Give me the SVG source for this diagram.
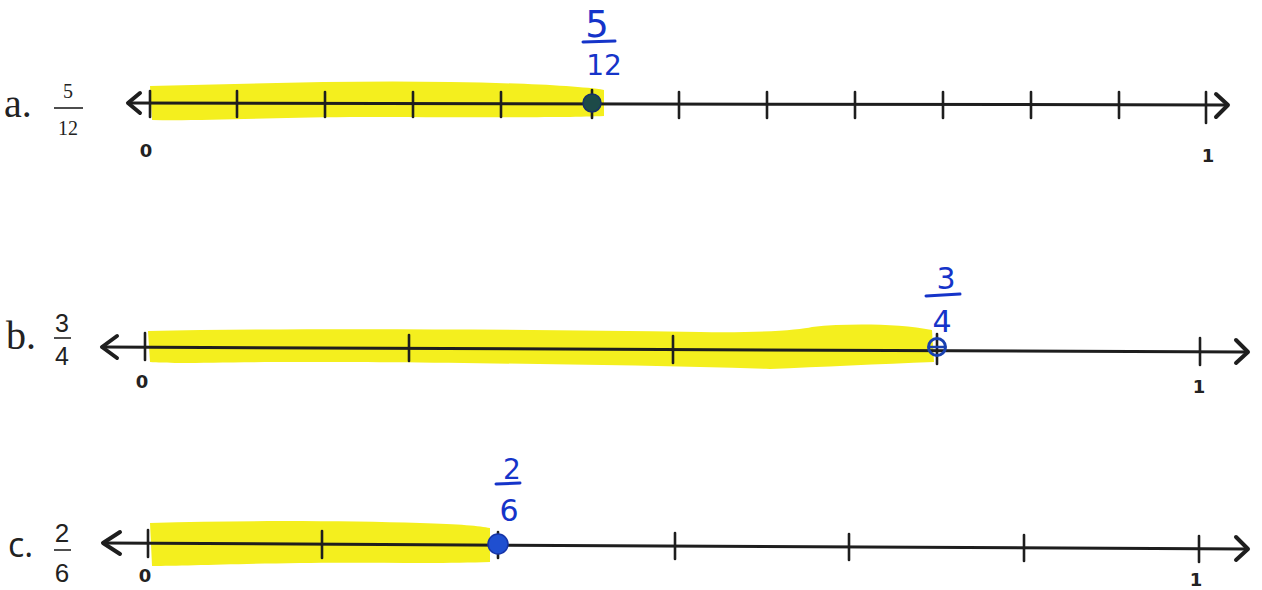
<svg xmlns="http://www.w3.org/2000/svg" width="1262" height="590" viewBox="0 0 1262 590">
<style>
.hl{fill:#f4ef1e;}
.ax{stroke:#1e1e1e;stroke-width:3;fill:none;stroke-linecap:round;}
.tk{stroke:#1e1e1e;stroke-width:2.6;stroke-linecap:round;}
.ah{stroke:#1e1e1e;stroke-width:4;fill:none;stroke-linecap:round;stroke-linejoin:round;}
.num{font-family:"DejaVu Sans","Liberation Sans",sans-serif;font-weight:bold;font-size:18px;fill:#222;text-anchor:middle;}
.lbl{font-family:"Liberation Serif",serif;font-size:40px;fill:#222;}
.lblc{font-family:"Open Sans","Liberation Sans",sans-serif;font-size:34px;fill:#222;}
.fr{font-family:"Liberation Serif",serif;font-size:20px;fill:#222;text-anchor:middle;}
.fr2{font-family:"Liberation Sans",sans-serif;font-size:25px;fill:#222;text-anchor:middle;}
.hw{font-family:"DejaVu Sans","Liberation Sans",sans-serif;font-size:30px;fill:#1534c9;text-anchor:middle;}
.hwb{stroke:#1534c9;stroke-width:3;stroke-linecap:round;}
.bar{stroke:#222;stroke-width:1.6;}
</style>

<g id="line-a">
  <text class="lbl" x="4" y="117">a.</text>
  <text class="fr" x="68" y="98">5</text>
  <line class="bar" x1="54" y1="108" x2="83" y2="108"/>
  <text class="fr" x="68" y="135">12</text>
  <path class="hl" d="M150,86 C250,84 350,80 450,82 C520,83 580,86 604,90 L604,116 C560,118 450,117 350,117 C260,118 200,121 152,120 Z"/>
  <path class="ax" d="M128,103 L1226,105"/>
  <path class="ah" d="M140,93 L128,103 L140,113"/>
  <path class="ah" d="M1216,94 L1228,105 L1216,117"/>
  <g class="tk">
    <line x1="150" y1="91" x2="150" y2="117"/>
    <line x1="237" y1="91" x2="237" y2="117"/>
    <line x1="325" y1="92" x2="325" y2="117"/>
    <line x1="413" y1="92" x2="413" y2="117"/>
    <line x1="501" y1="92" x2="501" y2="117"/>
    <line x1="679" y1="92" x2="679" y2="118"/>
    <line x1="767" y1="92" x2="767" y2="118"/>
    <line x1="855" y1="92" x2="855" y2="118"/>
    <line x1="943" y1="92" x2="943" y2="118"/>
    <line x1="1031" y1="92" x2="1031" y2="118"/>
    <line x1="1119" y1="92" x2="1119" y2="118"/>
    <line x1="1206" y1="92" x2="1206" y2="123"/>
  </g>
  <line class="tk" x1="592" y1="90" x2="592" y2="118"/>
  <circle cx="592" cy="103" r="9" fill="#1d4a48" stroke="#16306a" stroke-width="1.5"/>
  <text class="num" x="146" y="157">0</text>
  <text class="num" x="1208" y="162">1</text>
  <text class="hw" x="597" y="37" style="font-size:37px">5</text>
  <line class="hwb" x1="583" y1="42" x2="615" y2="41"/>
  <text class="hw" x="604" y="75" style="font-size:28px">12</text>
</g>

<g id="line-b">
  <text class="lbl" x="6" y="349">b.</text>
  <text class="fr2" x="62" y="332">3</text>
  <line class="bar" x1="54" y1="338" x2="71" y2="338"/>
  <text class="fr2" x="62" y="365">4</text>
  <path class="hl" d="M148,331 C300,328 500,329 700,332 C760,333 800,330 812,327 C850,323 900,324 932,330 L934,362 C880,364 820,367 770,369 C600,364 400,362 300,362 C220,362 170,364 150,362 Z"/>
  <path class="ax" d="M102,347 L1246,352"/>
  <path class="ah" d="M117,336 L102,347 L117,358"/>
  <path class="ah" d="M1236,340 L1248,352 L1236,363"/>
  <g class="tk">
    <line x1="145" y1="333" x2="145" y2="360"/>
    <line x1="409" y1="335" x2="409" y2="361"/>
    <line x1="673" y1="336" x2="673" y2="363"/>
    <line x1="937" y1="334" x2="937" y2="364"/>
    <line x1="1200" y1="338" x2="1200" y2="365"/>
  </g>
  <circle cx="937" cy="347" r="8.5" fill="none" stroke="#1840b0" stroke-width="3"/>
  <line x1="929" y1="347" x2="945" y2="347" stroke="#1840b0" stroke-width="2.5"/>
  <text class="num" x="142" y="388">0</text>
  <text class="num" x="1199" y="393">1</text>
  <text class="hw" x="946" y="289">3</text>
  <line class="hwb" x1="926" y1="296" x2="960" y2="294"/>
  <text class="hw" x="942" y="332">4</text>
</g>

<g id="line-c">
  <text class="lblc" x="8" y="557">c.</text>
  <text class="fr2" x="62" y="542" style="font-size:26px">2</text>
  <line class="bar" x1="54" y1="550" x2="71" y2="550"/>
  <text class="fr2" x="62" y="582" style="font-size:26px">6</text>
  <path class="hl" d="M150,523 C250,520 350,521 420,523 C460,524 480,526 490,528 L490,562 C440,564 360,562 300,563 C230,564 180,566 152,566 Z"/>
  <path class="ax" d="M103,543 L1246,549"/>
  <path class="ah" d="M120,532 L103,543 L120,554"/>
  <path class="ah" d="M1236,537 L1248,549 L1236,560"/>
  <g class="tk">
    <line x1="148" y1="530" x2="148" y2="557"/>
    <line x1="322" y1="531" x2="322" y2="558"/>
    <line x1="675" y1="533" x2="675" y2="559"/>
    <line x1="849" y1="534" x2="849" y2="560"/>
    <line x1="1024" y1="535" x2="1024" y2="561"/>
    <line x1="1199" y1="536" x2="1199" y2="562"/>
  </g>
  <line class="tk" x1="498" y1="532" x2="498" y2="558"/>
  <circle cx="498" cy="544" r="10" fill="#1f4fd0" stroke="#1534a8" stroke-width="1.5"/>
  <text class="num" x="145" y="582">0</text>
  <text class="num" x="1196" y="586">1</text>
  <text class="hw" x="512" y="479" style="font-size:28px">2</text>
  <line class="hwb" x1="496" y1="484" x2="520" y2="483"/>
  <text class="hw" x="509" y="521">6</text>
</g>
</svg>
